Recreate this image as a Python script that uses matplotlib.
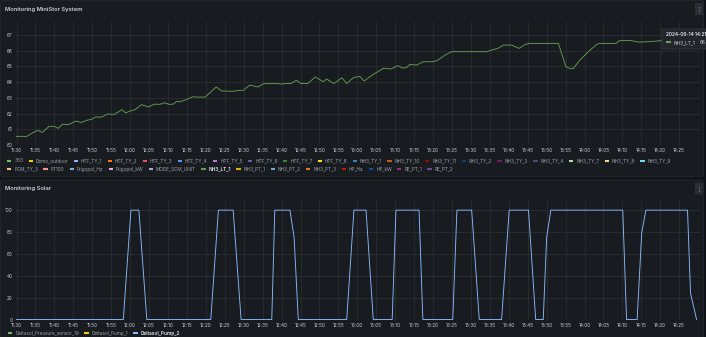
import pandas as pd
import matplotlib
matplotlib.use('Agg')
import matplotlib.pyplot as plt
import matplotlib.dates as mdates
from matplotlib.patches import FancyBboxPatch
from matplotlib.ticker import MultipleLocator

plt.rcParams['font.family'] = ['Inter', 'DejaVu Sans']

W, H = 706, 337
PAGE = '#111217'
PANEL = '#181b1f'
BORDER = '#24272d'
GRID = '#2a2d33'
TEXT = '#ccccdc'
DIM = '#9da1a9'

start = pd.Timestamp('2024-06-14 11:30')

# NH3_LT_1 level, minutes after 11:30
level_min = [0, 2.7, 4.4, 5.7, 6.8, 8.6, 9.9, 11.0, 12.1, 13.7, 15.7, 17.0, 18.5, 20.0, 20.9,
             22.5, 24.0, 25.8, 27.8, 28.8, 30.0, 31.3, 33.0, 34.8, 36.4, 37.9, 39.0, 40.3,
             41.4, 42.3, 43.2, 44.9, 46.5, 47.9, 49.8, 52.7, 54.2, 57.1, 58.6, 59.9, 61.6,
             63.8, 65.2, 68.7, 70.1, 71.0, 72.4, 73.9, 75.2, 76.9, 78.9, 81.0, 81.9, 83.8,
             85.9, 87.2, 89.0, 90.7, 91.8, 93.3, 94.7, 96.9, 98.9, 100.7, 101.9, 103.0,
             103.9, 105.7, 107.4, 109.4, 111.0, 113.2, 114.9, 124.2, 125.5, 127.1, 128.6,
             130.8, 132.7, 134.3, 135.6, 143.1, 145.1, 146.2, 147.0, 148.8, 151.0, 153.2,
             153.9, 158.3, 159.3, 162.0, 164.2, 167.3, 170.1, 174.5, 179.5]
level_val = [60.55, 60.55, 60.8, 60.93, 60.8, 61.19, 61.19, 61.06, 61.32, 61.3, 61.53, 61.43,
             61.57, 61.65, 61.78, 61.78, 61.97, 61.95, 62.25, 62.04, 62.17, 62.25, 62.57,
             62.42, 62.6, 62.59, 62.69, 62.59, 62.6, 62.78, 62.75, 62.9, 63.07, 63.05, 63.05,
             63.69, 63.44, 63.42, 63.48, 63.48, 63.82, 63.69, 63.9, 63.91, 63.88, 63.91,
             63.91, 64.12, 63.91, 63.91, 64.33, 64.03, 64.2, 63.91, 64.28, 63.91, 64.3,
             64.36, 64.07, 64.35, 64.56, 64.88, 64.84, 65.05, 64.9, 64.93, 65.13, 65.09,
             65.3, 65.3, 65.36, 65.73, 65.94, 65.94, 66.05, 66.15, 66.36, 66.36, 66.15,
             66.4, 66.47, 66.47, 64.98, 64.86, 64.86, 65.41, 65.94, 66.4, 66.47, 66.47,
             66.64, 66.66, 66.55, 66.58, 66.64, 66.62, 66.64]

# Deltasol_Pump_2 speed, minutes after 11:30
pump_min = [0, 28.2, 30.2, 32.3, 34.4, 51.3, 53.3, 57.2, 59.3, 67.4, 68.2, 72.2, 73.3, 74.4,
            87.2, 89.1, 92.3, 94.2, 99.2, 100.2, 106.3, 107.3, 115.2, 116.3, 120.2, 122.2,
            128.1, 130.1, 135.2, 137.1, 139.1, 140.0, 141.1, 160.1, 161.1, 163.9, 165.1,
            166.2, 177.2, 178.0, 179.6]
pump_val = [0, 0, 100, 100, 0, 0, 100, 100, 0, 0, 100, 100, 75, 0, 0, 100, 100, 0, 0, 100,
            100, 0, 0, 100, 100, 0, 0, 100, 100, 0, 0, 75, 100, 100, 0, 0, 79, 100, 100, 24, 0]

ministor_names = ['333', 'Demo_outdoor', 'HTF_TY_1', 'HTF_TY_2', 'HTF_TY_3', 'HTF_TY_4',
                  'HTF_TY_5', 'HTF_TY_6', 'HTF_TY_7', 'HTF_TY_8', 'NH3_TY_1', 'NH3_TY_10',
                  'NH3_TY_11', 'NH3_TY_2', 'NH3_TY_3', 'NH3_TY_4', 'NH3_TY_7', 'NH3_TY_8',
                  'NH3_TY_9', 'PCM_TY_3', 'PT100', 'Frigopol_Hz', 'Frigopol_kW',
                  'MODE_SCM_UNIT', 'NH3_LT_1', 'NH3_PT_1', 'NH3_PT_2', 'NH3_PT_3', 'HP_Hz',
                  'HP_kW', 'RE_PT_1', 'RE_PT_2']
classic = ['#73BF69', '#F2CC0C', '#8AB8FF', '#FF780A', '#F2495C', '#5794F2', '#B877D9',
           '#705DA0', '#37872D', '#FADE2A', '#447EBC', '#C15C17', '#890F02', '#0A437C',
           '#6D1F62', '#584477', '#B7DBAB', '#F4D598', '#70DBED', '#F9BA8F', '#F29191',
           '#82B5D8', '#E5A8E2', '#AEA2E0', '#629E51', '#E5AC0E', '#64B0C8', '#E0752D',
           '#BF1B00', '#0A50A1', '#962D82', '#614D93']
solar_names = ['Deltasol_Pressure_sensor_19', 'Deltasol_Pump_1', 'Deltasol_Pump_2']

level_t = start + pd.to_timedelta(level_min, unit='min')
pump_t = start + pd.to_timedelta(pump_min, unit='min')
t0 = start - pd.Timedelta(minutes=0.15)
t1 = start + pd.Timedelta(minutes=180.5)
ticks = pd.date_range(start, start + pd.Timedelta(minutes=175), freq='5min')

fig = plt.figure(figsize=(W / 100, H / 100), dpi=100, facecolor=PAGE)
bg = fig.add_axes([0, 0, 1, 1])
bg.set_xlim(0, W)
bg.set_ylim(H, 0)
bg.axis('off')


def panel(y0, y1, title):
    bg.add_patch(FancyBboxPatch((0.5, y0 + 0.5), 703, y1 - y0 - 1,
                                boxstyle='round,pad=0,rounding_size=2',
                                fc=PANEL, ec=BORDER, lw=0.6))
    bg.text(5, y0 + 9, title, color=TEXT, fontsize=4.2, fontweight='semibold', va='center')
    bg.add_patch(FancyBboxPatch((695, y0 + 3), 8, 12, boxstyle='round,pad=0,rounding_size=1',
                                fc='#2b2e35', ec='none'))
    bg.text(699, y0 + 9, '\u22ee', color=TEXT, fontsize=4, ha='center', va='center',
            family='DejaVu Sans')


def px_axes(left, top, right, bottom):
    return fig.add_axes([left / W, 1 - bottom / H, (right - left) / W, (bottom - top) / H])


def style(ax):
    ax.set_facecolor('none')
    for s in ax.spines.values():
        s.set_visible(False)
    ax.grid(True, color=GRID, lw=0.6)
    ax.set_axisbelow(True)
    ax.tick_params(length=0, labelsize=3.4, labelcolor=TEXT, pad=2.5)
    ax.set_xticks(ticks)
    ax.xaxis.set_major_formatter(mdates.DateFormatter('%H:%M'))
    ax.set_xlim(t0, t1)


def legend(names, colors, x0, y, highlight, right=700, row_h=8.7):
    r = fig.canvas.get_renderer()
    x = x0
    for name, c in zip(names, colors):
        hot = name == highlight
        t = bg.text(x + 7.3, y, name, fontsize=3.4, va='center',
                    color='#e6e6f0' if hot else DIM,
                    fontweight='semibold' if hot else 'normal')
        w = t.get_window_extent(r).width
        if x + 7.3 + w > right:
            x = x0
            y += row_h
            t.set_position((x + 7.3, y))
        bg.plot([x, x + 4.3], [y, y], color=c, lw=1.5, solid_capstyle='butt')
        x += 7.3 + w + 5.2


panel(0, 177, 'Monitoring MiniStor System')
panel(179.5, 345, 'Monitoring Solar')

# MiniStor panel
ax1 = px_axes(16, 22, 700, 145)
style(ax1)
ax1.plot(level_t, level_val, color=classic[24], lw=0.65)
ax1.set_ylim(60, 67.83)
ax1.yaxis.set_major_locator(MultipleLocator(1))
legend(ministor_names, classic, 7, 160.5, 'NH3_LT_1')

# Solar panel
ax2 = px_axes(16, 200, 700, 319.5)
style(ax2)
ax2.plot(pump_t, pump_val, color=classic[2], lw=0.65)
ax2.set_ylim(0, 109.3)
ax2.yaxis.set_major_locator(MultipleLocator(20))
legend(solar_names, classic, 8, 333, 'Deltasol_Pump_2')

# hover tooltip over the level line, running off the right edge
fg = fig.add_axes([0, 0, 1, 1])
fg.set_xlim(0, W)
fg.set_ylim(H, 0)
fg.axis('off')
fg.add_patch(FancyBboxPatch((662, 29), 60, 20, boxstyle='round,pad=0,rounding_size=1.5',
                            fc='#22252b', ec='#34373e', lw=0.6))
fg.text(665.5, 34.3, '2024-06-14 14:21:00', color='#e6e6f0', fontsize=3.4,
        fontweight='semibold', va='center')
fg.plot([665.5, 670.5], [42.3, 42.3], color=classic[24], lw=1.5, solid_capstyle='butt')
fg.text(674, 42.3, 'NH3_LT_1', color=TEXT, fontsize=3.4, va='center')
fg.text(699.5, 42.3, '66.6', color=TEXT, fontsize=3.4, va='center')

fig.savefig('out.png', dpi=100, facecolor=PAGE)
